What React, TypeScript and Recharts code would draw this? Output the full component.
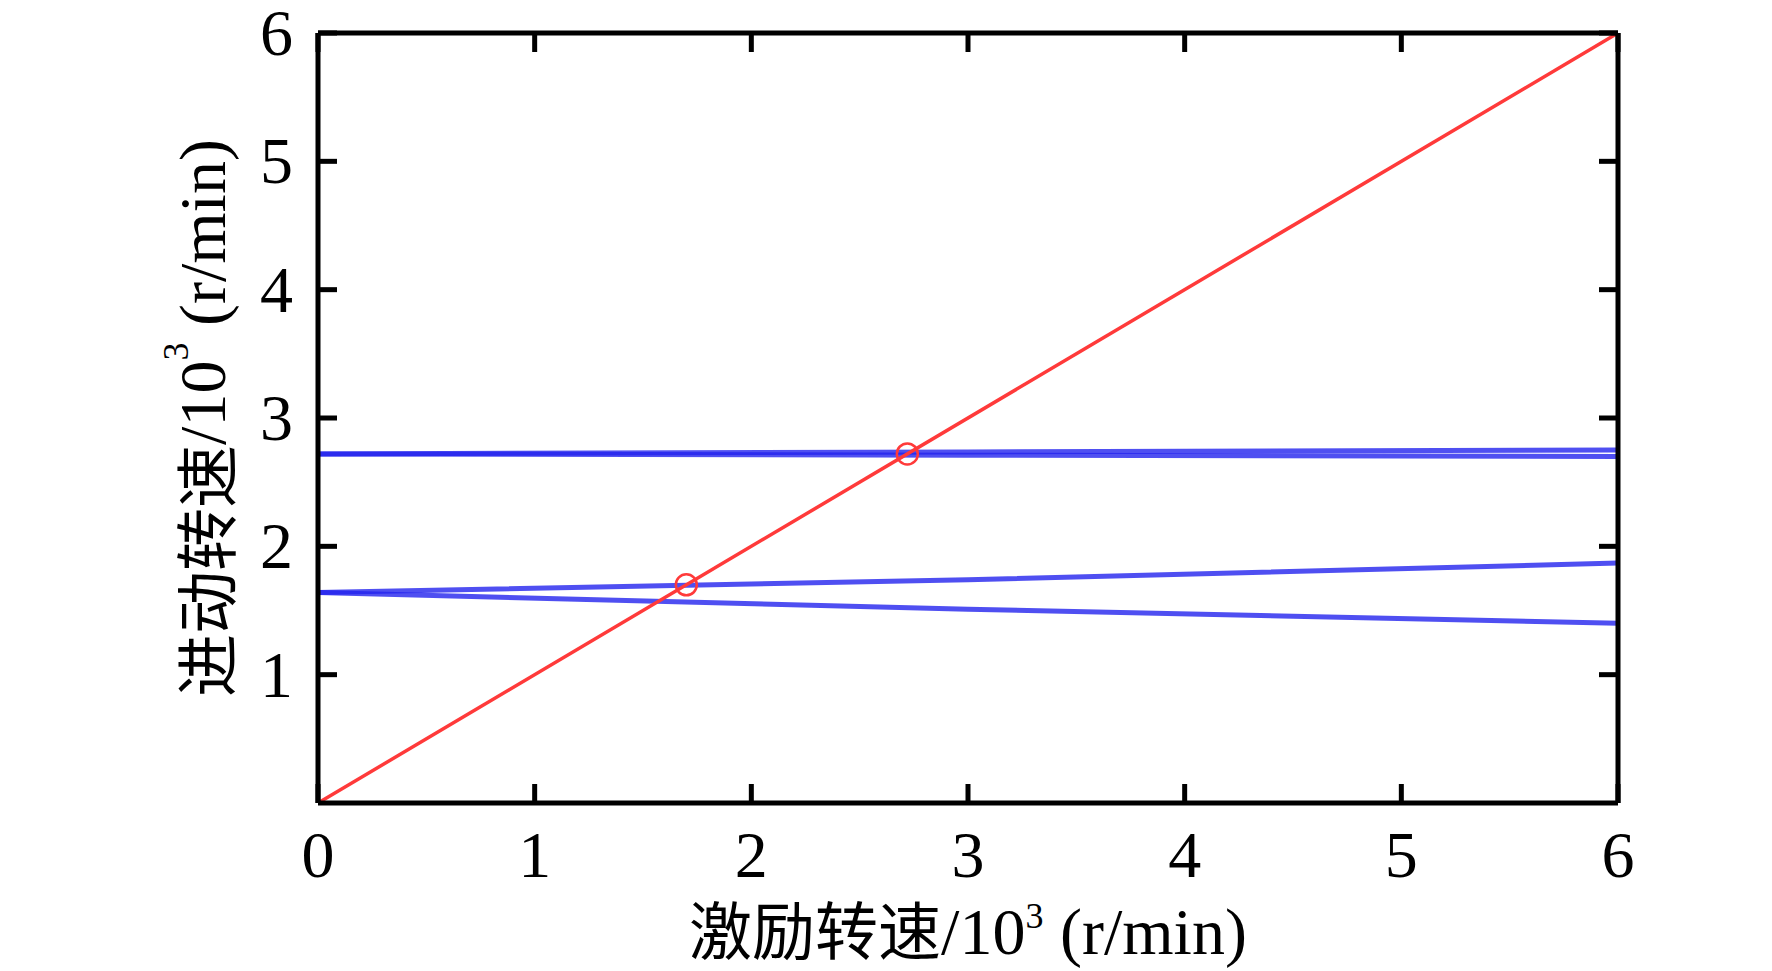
import {
  ComposedChart,
  Line,
  Scatter,
  XAxis,
  YAxis,
  Label,
} from 'recharts';

// excitation speed samples (x 10^3 r/min)
const speedGrid = [0, 3, 6];
const excitation = [0, 6];

// precession speed branches (x 10^3 r/min)
const upperForward = [2.72, 2.735, 2.75];
const upperBackward = [2.72, 2.71, 2.7];
const lowerForward = [1.64, 1.74, 1.87];
const lowerBackward = [1.64, 1.51, 1.4];

// intersections with the excitation line
const crossX = [1.7, 2.72];
const crossY = [1.7, 2.72];

const xTicks = [0, 1, 2, 3, 4, 5, 6];
const yTicks = [1, 2, 3, 4, 5, 6];

const toPoints = (xs: number[], ys: number[]) => xs.map((x, i) => ({ x, y: ys[i] }));

const FONT = '"Liberation Serif", "Times New Roman", "Noto Sans CJK SC", serif';
const CJK_FONT = '"Noto Sans CJK SC", "Liberation Serif", serif';
const FS = 66;
const CJK_FS = 63;
const TICK_LEN = 19;
const FRAME_W = 5;
const BLUE = '#2323ee';
const RED = '#ff3a3a';

const bottomTick = (p: any) => (
  <g>
    <line x1={p.x} y1={p.y} x2={p.x} y2={p.y - TICK_LEN} stroke="#000" strokeWidth={FRAME_W} />
    <text x={p.x} y={p.y + 74} textAnchor="middle" fontSize={FS} fontFamily={FONT} fill="#000">
      {p.payload.value}
    </text>
  </g>
);

const topTick = (p: any) => (
  <line x1={p.x} y1={p.y} x2={p.x} y2={p.y + TICK_LEN} stroke="#000" strokeWidth={FRAME_W} />
);

const leftTick = (p: any) => (
  <g>
    <line x1={p.x} y1={p.y} x2={p.x + TICK_LEN} y2={p.y} stroke="#000" strokeWidth={FRAME_W} />
    <text x={p.x - 25} y={p.y + 22} textAnchor="end" fontSize={FS} fontFamily={FONT} fill="#000">
      {p.payload.value}
    </text>
  </g>
);

const rightTick = (p: any) => (
  <line x1={p.x} y1={p.y} x2={p.x - TICK_LEN} y2={p.y} stroke="#000" strokeWidth={FRAME_W} />
);

const ring = (p: any) => (
  <circle cx={p.cx} cy={p.cy} r={10.5} fill="none" stroke={RED} strokeWidth={2.5} />
);

const titleSpans = (cjk: string) => [
  <tspan key="c" fontFamily={CJK_FONT} fontSize={CJK_FS}>{cjk}</tspan>,
  <tspan key="u">/10</tspan>,
  <tspan key="s" dy={-26} fontSize={36}>3</tspan>,
  <tspan key="r" dy={26}> (r/min)</tspan>,
];

export default function App() {
  const axisLine = { stroke: '#000', strokeWidth: FRAME_W };
  const blueLines = [upperForward, upperBackward, lowerForward, lowerBackward];

  return (
    <div style={{ width: 1772, height: 971, background: '#fff' }}>
      <style>{'body{margin:0;overflow:hidden}'}</style>
      <ComposedChart
        width={1772}
        height={971}
        margin={{ top: 32, right: 153, bottom: 0, left: 0 }}
      >
        <XAxis
          xAxisId="b"
          dataKey="x"
          type="number"
          domain={[0, 6]}
          allowDataOverflow
          ticks={xTicks}
          interval={0}
          height={168}
          tickSize={0}
          tickMargin={0}
          tickLine={false}
          axisLine={axisLine}
          tick={bottomTick}
        >
          <Label
            content={({ viewBox }: any) => (
              <text
                x={viewBox.x + viewBox.width / 2}
                y={viewBox.y + 151}
                textAnchor="middle"
                fontSize={FS}
                fontFamily={FONT}
                fill="#000"
              >
                {titleSpans('激励转速')}
              </text>
            )}
          />
        </XAxis>
        <XAxis
          xAxisId="t"
          orientation="top"
          dataKey="x"
          type="number"
          domain={[0, 6]}
          allowDataOverflow
          ticks={xTicks}
          interval={0}
          height={1}
          tickSize={0}
          tickMargin={0}
          tickLine={false}
          axisLine={axisLine}
          tick={topTick}
        />
        <YAxis
          yAxisId="l"
          type="number"
          domain={[0, 6]}
          allowDataOverflow
          ticks={yTicks}
          interval={0}
          width={318}
          tickSize={0}
          tickMargin={0}
          tickLine={false}
          axisLine={axisLine}
          tick={leftTick}
        >
          <Label
            content={({ viewBox }: any) => {
              const cx = viewBox.x + 202;
              const cy = viewBox.y + viewBox.height / 2;
              return (
                <text
                  x={cx}
                  y={cy}
                  transform={`rotate(-90 ${cx} ${cy})`}
                  textAnchor="middle"
                  dominantBaseline="central"
                  fontSize={FS}
                  fontFamily={FONT}
                  fill="#000"
                >
                  {titleSpans('进动转速')}
                </text>
              );
            }}
          />
        </YAxis>
        <YAxis
          yAxisId="r"
          orientation="right"
          type="number"
          domain={[0, 6]}
          allowDataOverflow
          ticks={yTicks}
          interval={0}
          width={1}
          tickSize={0}
          tickMargin={0}
          tickLine={false}
          axisLine={axisLine}
          tick={rightTick}
        />

        {blueLines.map((ys, i) => (
          <Line
            key={`blue-${i}`}
            xAxisId="b"
            yAxisId="l"
            data={toPoints(speedGrid, ys)}
            dataKey="y"
            type="linear"
            stroke={BLUE}
            strokeWidth={5}
            strokeOpacity={0.8}
            dot={false}
            activeDot={false}
            isAnimationActive={false}
          />
        ))}
        <Line
          xAxisId="b"
          yAxisId="l"
          data={toPoints(excitation, excitation)}
          dataKey="y"
          type="linear"
          stroke={RED}
          strokeWidth={3.5}
          dot={false}
          activeDot={false}
          isAnimationActive={false}
        />
        {/* invisible series so the top/right frame axes get a scale */}
        <Line
          xAxisId="t"
          yAxisId="r"
          data={toPoints(excitation, excitation)}
          dataKey="y"
          stroke="none"
          dot={false}
          activeDot={false}
          legendType="none"
          isAnimationActive={false}
        />
        <Scatter
          xAxisId="b"
          yAxisId="l"
          data={toPoints(crossX, crossY)}
          dataKey="y"
          shape={ring}
          isAnimationActive={false}
        />
      </ComposedChart>
    </div>
  );
}
